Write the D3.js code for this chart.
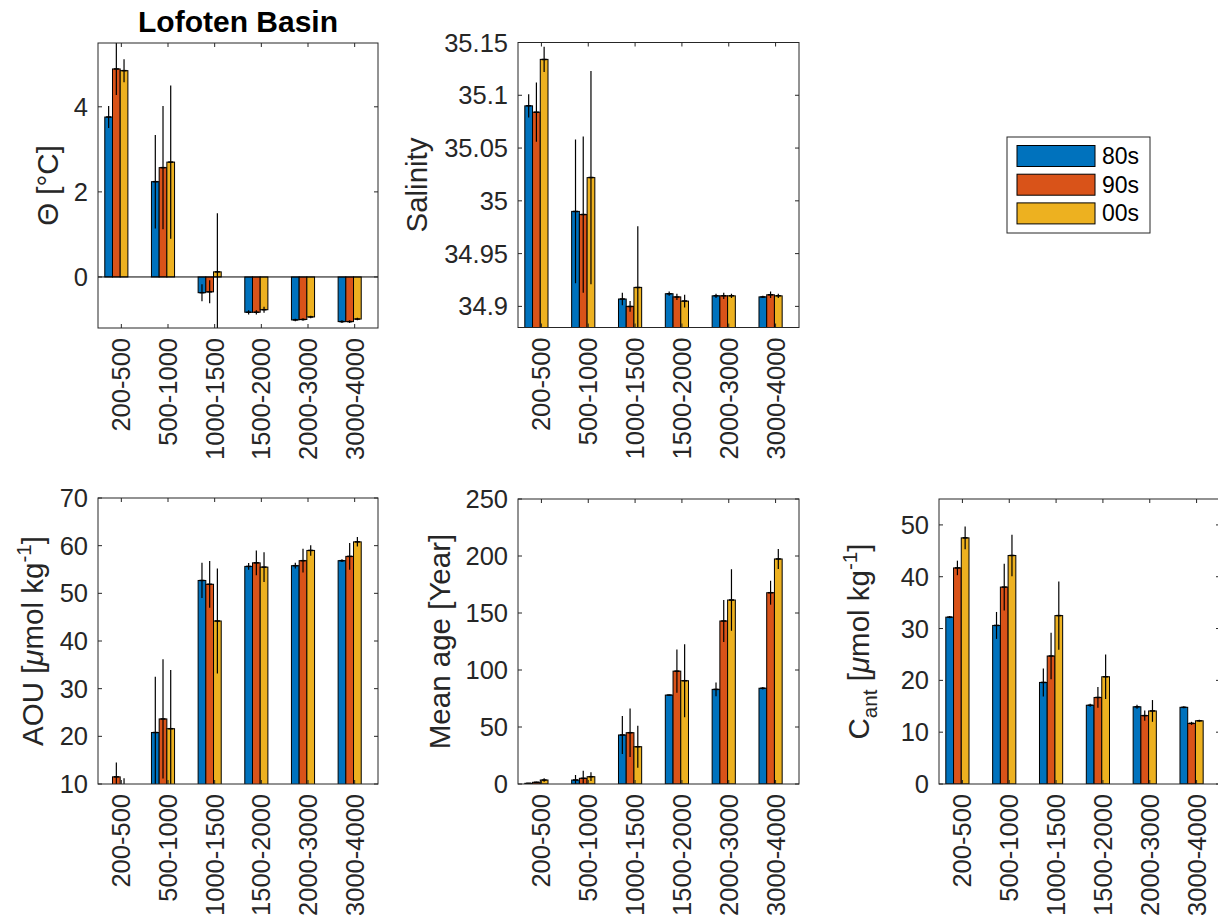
<!DOCTYPE html>
<html><head><meta charset="utf-8">
<script src="https://cdn.jsdelivr.net/npm/d3@7"></script>
<style>body{margin:0;background:#fff}svg{display:block;font-family:"Liberation Sans",Arial,Helvetica,sans-serif}</style>
</head><body><svg id="c" width="1218" height="921"></svg>
<script>
const categories = ["200-500","500-1000","1000-1500","1500-2000","2000-3000","3000-4000"];
const decades = ["80s","90s","00s"];
const colors = ["#0072BD","#D95319","#EDB120"];

const thetaMean = [[3.76,2.24,-0.37,-0.83,-1.01,-1.05],[4.89,2.57,-0.35,-0.83,-1.00,-1.05],[4.85,2.70,0.12,-0.77,-0.94,-0.99]];
const thetaErr  = [[0.26,1.10,0.20,0.05,0.03,0.03],[0.61,1.45,0.27,0.05,0.03,0.03],[0.27,1.80,1.38,0.07,0.03,0.03]];
const thetaTicks = [0,2,4];

const salMean = [[35.090,34.990,34.907,34.912,34.910,34.909],[35.084,34.987,34.900,34.909,34.910,34.911],[35.134,35.022,34.918,34.905,34.910,34.910]];
const salErr  = [[0.011,0.068,0.006,0.002,0.002,0.001],[0.028,0.074,0.005,0.003,0.003,0.003],[0.012,0.101,0.058,0.006,0.002,0.002]];
const salTicks = [34.9,34.95,35,35.05,35.1,35.15];

const aouMean = [[9.0,20.8,52.7,55.65,55.8,56.85],[11.5,23.65,51.9,56.4,56.85,57.75],[9.0,21.6,44.2,55.5,59.0,60.8]];
const aouErr  = [[1.0,11.7,3.7,0.7,0.6,0.3],[3.0,12.5,4.9,2.6,2.5,2.8],[2.2,12.3,11.0,3.1,1.1,1.0]];
const aouTicks = [10,20,30,40,50,60,70];

const ageMean = [[0.6,3.5,43,78,83,84],[1.5,5.0,45,99,143,167.8],[3.5,6.4,32.7,90.6,161.4,197.4]];
const ageErr  = [[0.3,4.4,16.7,0.5,6.0,1.0],[0.5,6.7,21.3,19,18.4,10.5],[1.5,3.8,18.5,32,27,8.8]];
const ageTicks = [0,50,100,150,200,250];

const cantMean = [[32.2,30.6,19.6,15.2,14.9,14.8],[41.7,38.0,24.7,16.7,13.2,11.7],[47.5,44.1,32.5,20.7,14.1,12.2]];
const cantErr  = [[0.2,2.6,2.7,0.3,0.4,0.2],[1.4,4.5,4.5,2.0,1.0,0.3],[2.2,4.0,6.6,4.3,2.1,0.2]];
const cantTicks = [0,10,20,30,40,50];

const svg = d3.select("#c");
const ink = "#262626";
const tickFont = 25.5, labelFont = 29.5;

const panels = [
  {mean:thetaMean, err:thetaErr, ticks:thetaTicks, domain:[-1.2,5.5], base:0, left:98, top:43, w:280, h:285, label:"theta", lx:58, zeroLine:true},
  {mean:salMean, err:salErr, ticks:salTicks, domain:[34.88,35.15], base:34.88, left:518, top:42.5, w:281, h:285, label:"Salinity", lx:427},
  {mean:aouMean, err:aouErr, ticks:aouTicks, domain:[10,70], base:0, left:98, top:498, w:280, h:286, label:"aou", lx:43},
  {mean:ageMean, err:ageErr, ticks:ageTicks, domain:[0,250], base:0, left:518, top:499, w:281, h:285, label:"Mean age [Year]", lx:450},
  {mean:cantMean, err:cantErr, ticks:cantTicks, domain:[0,55], base:0, left:939, top:499, w:281, h:285, label:"cant", lx:869}
];

const defs = svg.append("defs");
panels.forEach((p,pi)=>{
  const x = d3.scaleLinear().domain([0.5,6.5]).range([p.left,p.left+p.w]);
  const y = d3.scaleLinear().domain(p.domain).range([p.top+p.h,p.top]);
  const bottom = p.top+p.h;
  defs.append("clipPath").attr("id","clip"+pi).append("rect")
    .attr("x",p.left).attr("y",p.top).attr("width",p.w).attr("height",p.h);
  const g = svg.append("g");
  const plot = g.append("g").attr("clip-path",`url(#clip${pi})`);
  const bw = x(0.165)-x(0);
  const offs = [-0.165,0,0.165];
  p.mean.forEach((series,s)=>{
    series.forEach((v,i)=>{
      const cx = x(i+1-0.107+offs[s]);
      const y0 = y(p.base), y1 = y(v);
      plot.append("rect").attr("x",cx-bw/2).attr("width",bw)
        .attr("y",Math.min(y0,y1)).attr("height",Math.abs(y1-y0))
        .attr("fill",colors[s]).attr("stroke","#000").attr("stroke-width",1);
    });
  });
  if(p.zeroLine){
    plot.append("line").attr("x1",p.left).attr("x2",p.left+p.w).attr("y1",y(0)).attr("y2",y(0))
      .attr("stroke","#000").attr("stroke-width",1);
  }
  p.mean.forEach((series,s)=>{
    series.forEach((v,i)=>{
      const cx = x(i+1-0.107+offs[s]);
      const e = p.err[s][i];
      plot.append("line").attr("x1",cx).attr("x2",cx).attr("y1",y(v-e)).attr("y2",y(v+e))
        .attr("stroke","#000").attr("stroke-width",1.2);
      plot.append("line").attr("x1",cx-2.5).attr("x2",cx+2.5).attr("y1",y(v)).attr("y2",y(v))
        .attr("stroke","#000").attr("stroke-width",1.5);
    });
  });
  // box
  g.append("rect").attr("x",p.left).attr("y",p.top).attr("width",p.w).attr("height",p.h)
    .attr("fill","none").attr("stroke",ink).attr("stroke-width",1);
  const tl = 4;
  // y ticks both sides
  p.ticks.forEach(t=>{
    const ty = y(t);
    g.append("line").attr("x1",p.left).attr("x2",p.left+tl).attr("y1",ty).attr("y2",ty).attr("stroke",ink);
    g.append("line").attr("x1",p.left+p.w).attr("x2",p.left+p.w-tl).attr("y1",ty).attr("y2",ty).attr("stroke",ink);
    g.append("text").attr("x",p.left-10).attr("y",ty).attr("text-anchor","end")
      .attr("dominant-baseline","central").attr("font-size",tickFont).attr("fill",ink)
      .text(String(+t.toFixed(2)));
  });
  // x ticks
  categories.forEach((c,i)=>{
    const tx = x(i+1);
    g.append("line").attr("x1",tx).attr("x2",tx).attr("y1",bottom).attr("y2",bottom-tl).attr("stroke",ink);
    g.append("line").attr("x1",tx).attr("x2",tx).attr("y1",p.top).attr("y2",p.top+tl).attr("stroke",ink);
    g.append("text").attr("transform",`translate(${tx},${bottom+10}) rotate(-90)`)
      .attr("text-anchor","end").attr("dominant-baseline","central")
      .attr("font-size",tickFont).attr("fill",ink).text(c);
  });
  // y label
  const cy = p.top+p.h/2;
  const lab = g.append("text").attr("transform",`translate(${p.lx},${cy}) rotate(-90)`)
    .attr("text-anchor","middle").attr("font-size",labelFont).attr("fill",ink);
  if(p.label==="theta"){
    lab.text("Θ [°C]");
  } else if(p.label==="aou"){
    lab.append("tspan").text("AOU [");
    lab.append("tspan").attr("font-style","italic").text("μ");
    lab.append("tspan").text("mol kg");
    lab.append("tspan").attr("font-size",labelFont*0.7).attr("dy",-12).text("-1");
    lab.append("tspan").attr("dy",12).text("]");
  } else if(p.label==="cant"){
    lab.append("tspan").text("C");
    lab.append("tspan").attr("font-size",labelFont*0.7).attr("dy",8).text("ant");
    lab.append("tspan").attr("dy",-8).text(" [");
    lab.append("tspan").attr("font-style","italic").text("μ");
    lab.append("tspan").text("mol kg");
    lab.append("tspan").attr("font-size",labelFont*0.7).attr("dy",-12).text("-1");
    lab.append("tspan").attr("dy",12).text("]");
  } else {
    lab.text(p.label);
  }
});

// title
svg.append("text").attr("x",238).attr("y",32).attr("text-anchor","middle")
  .attr("font-size",30).attr("font-weight","bold").attr("fill","#000").text("Lofoten Basin");

// legend
const lg = svg.append("g");
lg.append("rect").attr("x",1007).attr("y",137).attr("width",143).attr("height",96)
  .attr("fill","#fff").attr("stroke",ink).attr("stroke-width",1);
decades.forEach((d,i)=>{
  const cy = 156 + i*28.7;
  lg.append("rect").attr("x",1017).attr("y",cy-10.5).attr("width",78).attr("height",21)
    .attr("fill",colors[i]).attr("stroke","#000").attr("stroke-width",1);
  lg.append("text").attr("x",1102).attr("y",cy).attr("dominant-baseline","central")
    .attr("font-size",23).attr("fill","#000").text(d);
});
</script></body></html>
